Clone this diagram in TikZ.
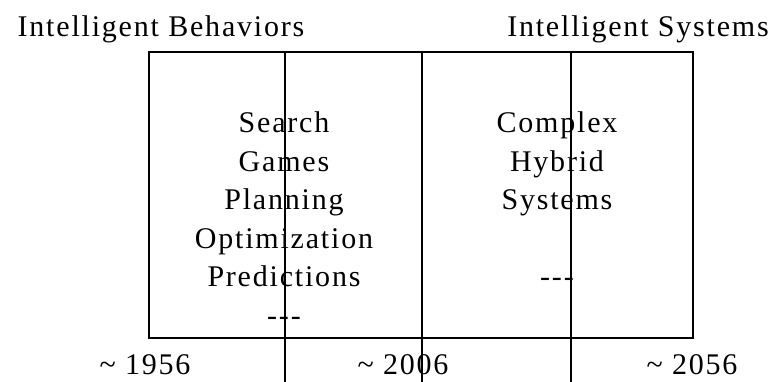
\documentclass[tikz,border=0pt]{standalone}
\usepackage{fontspec}
\setmainfont{Liberation Serif}[LetterSpace=6]
\usepackage{tikz}
\usetikzlibrary{positioning}

\tikzset{
  era text/.style={font=\fontsize{30}{38.5}\selectfont, inner sep=0pt, anchor=base},
  frame line/.style={line width=2.4pt},
  split line/.style={line width=1.4pt}
}

\begin{document}
\begin{tikzpicture}[x=1pt,y=1pt]
\useasboundingbox (0,0) rectangle (777,382);

% Outer frame
\draw[frame line] (149,44) rectangle (693,330);

% Year dividers, running down past the frame
\coordinate (d1top) at (285,330);
\coordinate (d1bot) at (285,0);
\coordinate (d2top) at (422,330);
\coordinate (d2bot) at (422,0);
\coordinate (d3top) at (571,330);
\coordinate (d3bot) at (571,0);
\draw[split line] (d1top) -- (d1bot);
\draw[split line] (d2top) -- (d2bot);
\draw[split line] (d3top) -- (d3bot);

% Headings
\node[era text] (behaviors) at (161,345) {Intelligent Behaviors};
\node[era text] (systems) at (638,345) {Intelligent Systems};

% Left column
\foreach \txt [count=\i] in {Search,Games,Planning,Optimization,Predictions,-{}-{}-}
  \node[era text] (beh\i) at (284,{249-38.5*(\i-1)}) {\txt};

% Right column
\foreach \txt [count=\i] in {Complex,Hybrid,Systems,{},-{}-{}-}
  \node[era text] (sys\i) at (557,{249-38.5*(\i-1)}) {\txt};

% Years along the bottom
\node[era text] (y1956) at (145,7) {\textasciitilde{} 1956};
\node[era text] (y2006) at (403,7) {\textasciitilde{} 2006};
\node[era text] (y2056) at (692,7) {\textasciitilde{} 2056};

\end{tikzpicture}
\end{document}
